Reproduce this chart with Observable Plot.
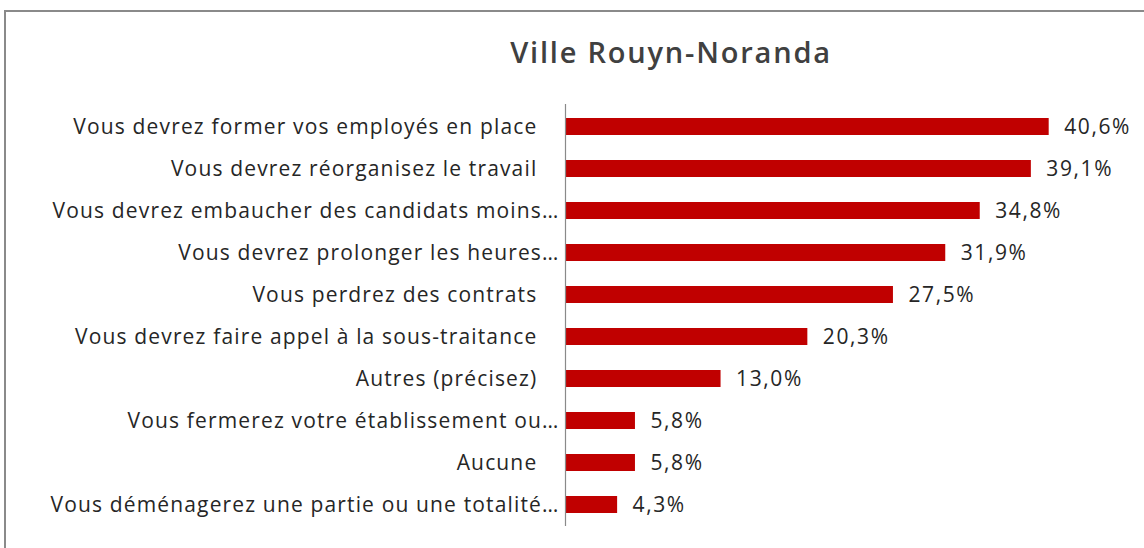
<!DOCTYPE html>
<html>
<head>
<meta charset="utf-8">
<script src="https://cdn.jsdelivr.net/npm/d3@7"></script>
<script src="https://cdn.jsdelivr.net/npm/@observablehq/plot@0.6"></script>
<style>
  html, body { margin: 0; padding: 0; background: #fff; overflow: hidden; width: 1144px; height: 548px; }
  #frame { position: absolute; left: 4px; top: 10px; width: 1160px; height: 560px; border: 2px solid #8a8a8a; box-sizing: border-box; }
  #title { position: absolute; left: 99px; top: 37px; width: 1144px; height: 29px; text-align: center;
           font-family: "Open Sans", "Noto Sans", sans-serif; font-weight: 600; font-size: 29px; color: #404040;
           line-height: 29px; letter-spacing: 1.8px; }
  #chart { position: absolute; left: 0; top: 90px; }
  #chart svg text { white-space: pre; }
  #chart svg .ticklabels text { letter-spacing: 1.15px; }
  #chart svg .valuelabels text { letter-spacing: 1.6px; }
</style>
</head>
<body>
<div id="frame"></div>
<div id="title">Ville Rouyn-Noranda</div>
<div id="chart"></div>
<script>
const categories = [
  "Vous devrez former vos employés en place\u2003",
  "Vous devrez réorganisez le travail\u2003",
  "Vous devrez embaucher des candidats moins…",
  "Vous devrez prolonger les heures…",
  "Vous perdrez des contrats\u2003",
  "Vous devrez faire appel à la sous-traitance\u2003",
  "Autres (précisez)\u2003",
  "Vous fermerez votre établissement ou…",
  "Aucune\u2003",
  "Vous déménagerez une partie ou une totalité…"
];
const values = [40.6, 39.1, 34.8, 31.9, 27.5, 20.3, 13.0, 5.8, 5.8, 4.3];

const data = categories.map((c, i) => ({category: c, value: values[i]}));
const fmt = v => d3.format(".1f")(v).replace(".", ",") + "%";

const chart = Plot.plot({
  width: 1144,
  height: 458,
  marginTop: 14,
  marginBottom: 22,
  marginLeft: 565,
  marginRight: 44,
  style: { fontFamily: "'Open Sans', 'Noto Sans', sans-serif", fontSize: "21px", color: "#262626", background: "transparent" },
  x: { domain: [0, 45], range: [566, 1101], axis: null },
  y: { domain: categories, paddingInner: 0.6, paddingOuter: 0.3, label: null },
  marks: [
    Plot.barX(data, { x: "value", y: "category", fill: "#c00000" }),
    Plot.ruleX([0], { stroke: "#8a8a8a", strokeWidth: 1.2, dx: -1 }),
    Plot.axisY({ tickSize: 0, tickPadding: 6, label: null, fontSize: 21, fill: "#262626", className: "ticklabels" }),
    Plot.text(data, { x: "value", y: "category", text: d => fmt(d.value), textAnchor: "start", dx: 15, fontSize: 21, fill: "#262626", className: "valuelabels" })
  ]
});
document.getElementById("chart").appendChild(chart);
</script>
</body>
</html>
